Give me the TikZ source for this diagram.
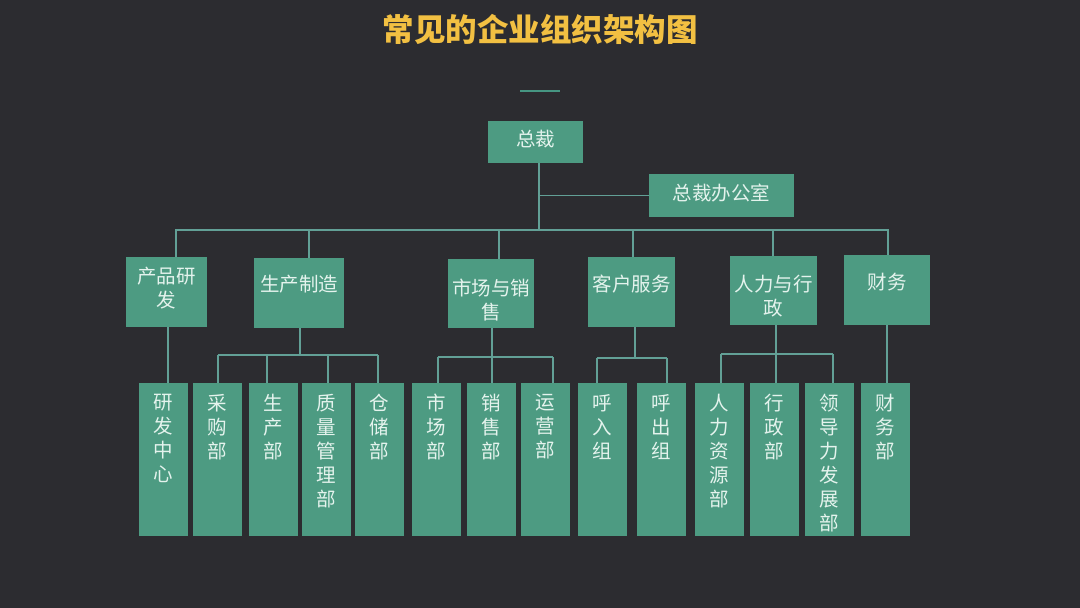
\documentclass[tikz,border=0pt]{standalone}
\usepackage{fontspec}
\newfontfamily\cjk{Noto Sans CJK SC}
\definecolor{bg}{RGB}{44,44,48}
\definecolor{boxc}{RGB}{77,155,130}
\definecolor{linec}{RGB}{98,160,150}
\definecolor{txtc}{RGB}{228,243,237}
\definecolor{ttlc}{RGB}{242,192,66}
\definecolor{ulc}{RGB}{70,150,130}
\newcommand\topbox[4]{\parbox[c][#1][t]{#2}{\centering\vspace*{#3}#4\par}}
\tikzset{
  orgbox/.style={fill=boxc, inner sep=0pt, text=txtc, font=\cjk\fontsize{19.5}{24}\selectfont},
  link/.style={draw=linec, line width=1.3pt},
}
\begin{document}
\begin{tikzpicture}[x=1pt,y=-1pt]
\fill[bg] (0,0) rectangle (1080,608);
\useasboundingbox (0,0) rectangle (1080,608);
\node[font=\cjk\bfseries\fontsize{31.5}{36}\selectfont, text=ttlc] (title) at (540,29) {常见的企业组织架构图};
\draw[draw=ulc, line width=2.5pt] (520,91) -- (560,91);

% level 1
\node[orgbox] (zc) at (535.5,142) {\topbox{42pt}{95pt}{9pt}{总裁}};
\node[orgbox] (zcb) at (721.5,195.5) {\topbox{43pt}{145pt}{10pt}{总裁办公室}};
% level 2
\node[orgbox] (cp) at (166.5,292) {\topbox{70pt}{81pt}{10pt}{产品研\\发}};
\node[orgbox] (sc) at (299,293) {\topbox{70pt}{90pt}{17pt}{生产制造}};
\node[orgbox] (ms) at (491,293.5) {\topbox{69pt}{86pt}{20pt}{市场与销\\售}};
\node[orgbox] (kf) at (631.5,292) {\topbox{70pt}{87pt}{18pt}{客户服务}};
\node[orgbox] (rl) at (773.5,290.5) {\topbox{69pt}{87pt}{19pt}{人力与行\\政}};
\node[orgbox] (cw) at (887,290) {\topbox{70pt}{86pt}{18pt}{财务}};
% level 3
\foreach \n/\x/\t in {yf/163.5/{研\\发\\中\\心}, cg/217/{采\\购\\部}, scb/273.5/{生\\产\\部},
  zl/326.5/{质\\量\\管\\理\\部}, cc/379.5/{仓\\储\\部}, scbu/436.5/{市\\场\\部},
  xs/491/{销\\售\\部}, yy/545.5/{运\\营\\部}, hr/602.5/{呼\\入\\组}, hc/661/{呼\\出\\组},
  rz/719.5/{人\\力\\资\\源\\部}, xz/774.5/{行\\政\\部}, ld/829/{领\\导\\力\\发\\展\\部}, cwb/885/{财\\务\\部}}
  \node[orgbox] (\n) at (\x,459.5) {\topbox{153pt}{49pt}{11pt}{\t}};

% connectors
\coordinate (trunk) at (539,230);
\coordinate (b1) at (176,230);
\coordinate (b2) at (309,230);
\coordinate (b3) at (499,230);
\coordinate (b4) at (633,230);
\coordinate (b5) at (773,230);
\coordinate (b6) at (888,230);
\draw[link] (trunk |- zc.south) -- (trunk);
\draw[link] (trunk |- zcb.west) -- (zcb.west);
\draw[link] (b1 |- cp.north) -- (b1) -- (b6) -- (b6 |- cw.north);
\draw[link] (b2) -- (b2 |- sc.north);
\draw[link] (b3) -- (b3 |- ms.north);
\draw[link] (b4) -- (b4 |- kf.north);
\draw[link] (b5) -- (b5 |- rl.north);

% 产品研发
\coordinate (c1) at (168,383);
\draw[link] (c1 |- cp.south) -- (c1 |- yf.north);
% 生产制造
\coordinate (j2) at (300,355);
\draw[link] (j2 |- sc.south) -- (j2);
\coordinate (h2l) at (218,355);
\coordinate (h2r) at (378,355);
\draw[link] (h2l) -- (h2r);
\foreach \x/\n in {218/cg,267/scb,328/zl,378/cc}
  \draw[link] (\x,355) -- (\x,355 |- \n.north);
% 市场与销售
\coordinate (j3) at (492,357);
\draw[link] (j3 |- ms.south) -- (j3);
\coordinate (h3l) at (438,357);
\coordinate (h3r) at (553,357);
\draw[link] (h3l) -- (h3r);
\foreach \x/\n in {438/scbu,492/xs,553/yy}
  \draw[link] (\x,357) -- (\x,357 |- \n.north);
% 客户服务
\coordinate (j4) at (635,358);
\draw[link] (j4 |- kf.south) -- (j4);
\coordinate (h4l) at (597,358);
\coordinate (h4r) at (667,358);
\draw[link] (h4l) -- (h4r);
\foreach \x/\n in {597/hr,667/hc}
  \draw[link] (\x,358) -- (\x,358 |- \n.north);
% 人力与行政
\coordinate (j5) at (776,354);
\draw[link] (j5 |- rl.south) -- (j5);
\coordinate (h5l) at (721,354);
\coordinate (h5r) at (833,354);
\draw[link] (h5l) -- (h5r);
\foreach \x/\n in {721/rz,776/xz,833/ld}
  \draw[link] (\x,354) -- (\x,354 |- \n.north);
% 财务
\coordinate (c6) at (887,382);
\draw[link] (c6 |- cw.south) -- (c6 |- cwb.north);
\end{tikzpicture}
\end{document}
